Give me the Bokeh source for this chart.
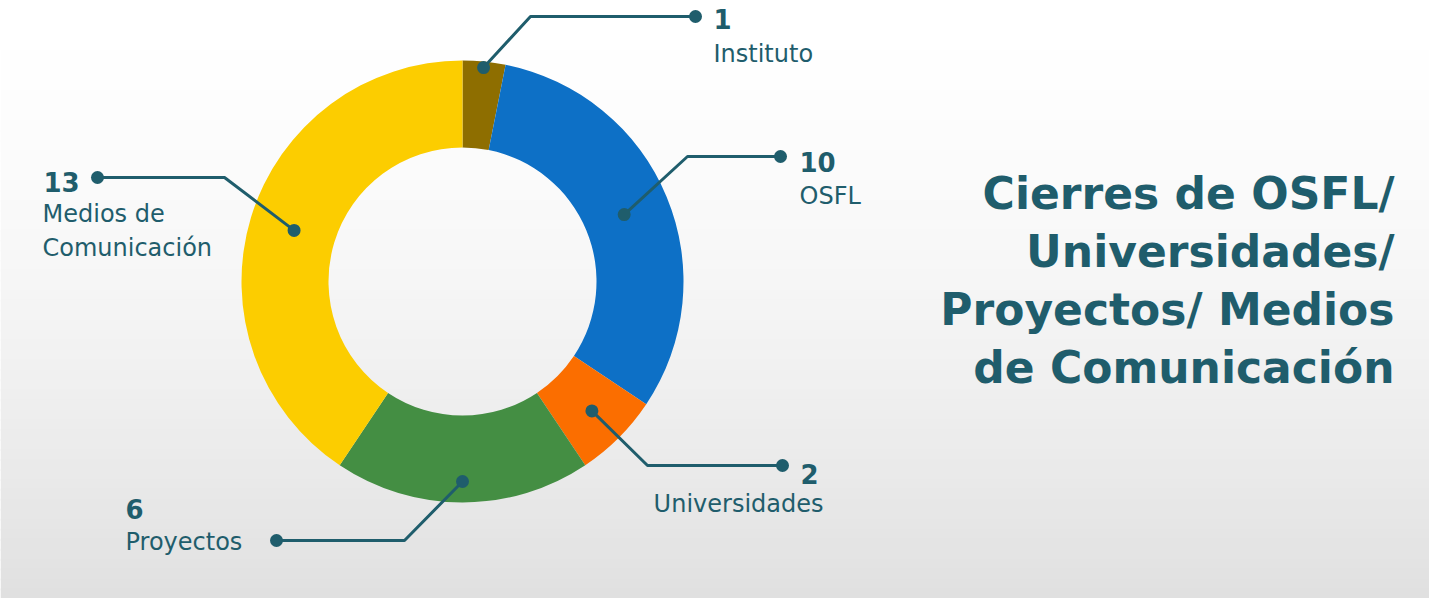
import math
from bokeh.plotting import figure
from bokeh.models import Range1d, ColumnDataSource
from bokeh.core.properties import value
from bokeh.embed import file_html
from bokeh.resources import INLINE

# ---- data ----
categories = ["Instituto", "OSFL", "Universidades", "Proyectos", "Medios de Comunicación"]
counts = [1, 10, 2, 6, 13]
label_lines = [["Instituto"], ["OSFL"], ["Universidades"], ["Proyectos"], ["Medios de", "Comunicación"]]
colors = ["#8e6e00", "#0d70c6", "#fb6e00", "#448e43", "#fccd00"]
title_lines = ["Cierres de OSFL/", "Universidades/", "Proyectos/ Medios", "de Comunicación"]

# ---- layout ----
W, H = 1429, 598
IMG_H = 614
TEAL = "#1f5d6c"
FONT = "DejaVu Sans"


def Y(img_y):
    return IMG_H - img_y


p = figure(width=W, height=H, output_backend="svg", toolbar_location=None,
           x_range=Range1d(8, 8 + W), y_range=Range1d(Y(606), Y(8)),
           min_border=0)
p.axis.visible = False
p.grid.visible = False
p.outline_line_color = None
p.background_fill_color = "#ffffff"
p.border_fill_color = "#ffffff"

# background gradient (decoration); strips overlap to avoid seams
n = 60
tops, bottoms, cols = [], [], []
for i in range(n):
    y0 = 8 + (606 - 8) * i / n
    y1 = 8 + (606 - 8) * (i + 1) / n + 2
    t = (i + 0.5) / n
    g = int(round(255 - 31 * t ** 1.6))
    tops.append(Y(y0)); bottoms.append(Y(min(y1, 606)))
    cols.append("#%02x%02x%02x" % (g, g, g))
p.quad(left=8, right=8 + W, top=tops, bottom=bottoms, fill_color=cols, line_color=None)

# donut
cx, cy = 470, Y(289)
r_out, r_in = 221, 134
total = sum(counts)
starts, ends, mids = [], [], []
cum = 0
for c in counts:
    a0 = math.pi / 2 - 2 * math.pi * cum / total
    cum += c
    a1 = math.pi / 2 - 2 * math.pi * cum / total
    starts.append(a0); ends.append(a1); mids.append((a0 + a1) / 2)
src = ColumnDataSource(dict(start=starts, end=ends, color=colors))
p.annular_wedge(x=cx, y=cy, inner_radius=r_in, outer_radius=r_out,
                start_angle="start", end_angle="end", direction="clock",
                fill_color="color", line_color=None, source=src)

# leader lines: (dot radius on ring, elbow (img coords), end dot (img coords))
dot_r = [215, 175, 183, 200, 176]
elbows = [(538, 24), (695, 164), (655, 473), (412, 548), (232, 185)]
ends_pt = [(703, 24), (788, 164), (790, 473), (284, 548), (105, 185)]
for i in range(len(counts)):
    sx = cx + dot_r[i] * math.cos(mids[i])
    sy = cy + dot_r[i] * math.sin(mids[i])
    ex, ey = elbows[i]
    tx, ty = ends_pt[i]
    p.line([sx, ex, tx], [sy, Y(ey), Y(ty)], line_color=TEAL, line_width=3)
    p.scatter([sx, tx], [sy, Y(ty)], size=13, fill_color=TEAL, line_color=None)

# labels: number position and name positions (img coords), alignment
num_pos = [(721, 26), (807, 169), (808, 481), (133, 516), (51, 189)]
name_pos = [(721, 61), (807, 203), (831, 511), (133, 549), (50, 221)]
name_align = ["left", "left", "right", "left", "left"]
for i in range(len(counts)):
    nx, ny = num_pos[i]
    p.text(x=[nx], y=[Y(ny)], text=[str(counts[i])], text_font=value(FONT),
           text_font_style="bold", text_font_size="26px", text_color=TEAL,
           text_align="left", text_baseline="middle")
    lx, ly = name_pos[i]
    for j, ln in enumerate(label_lines[i]):
        p.text(x=[lx], y=[Y(ly + 34 * j)], text=[ln], text_font=value(FONT),
               text_font_size="24px", text_color=TEAL,
               text_align=name_align[i], text_baseline="middle")

# title block
for j, ln in enumerate(title_lines):
    p.text(x=[1402], y=[Y(201 + 58 * j)], text=[ln], text_font=value(FONT),
           text_font_style="bold", text_font_size="44px", text_color=TEAL,
           text_align="right", text_baseline="middle")

open("out.html", "w").write(file_html(p, INLINE))
